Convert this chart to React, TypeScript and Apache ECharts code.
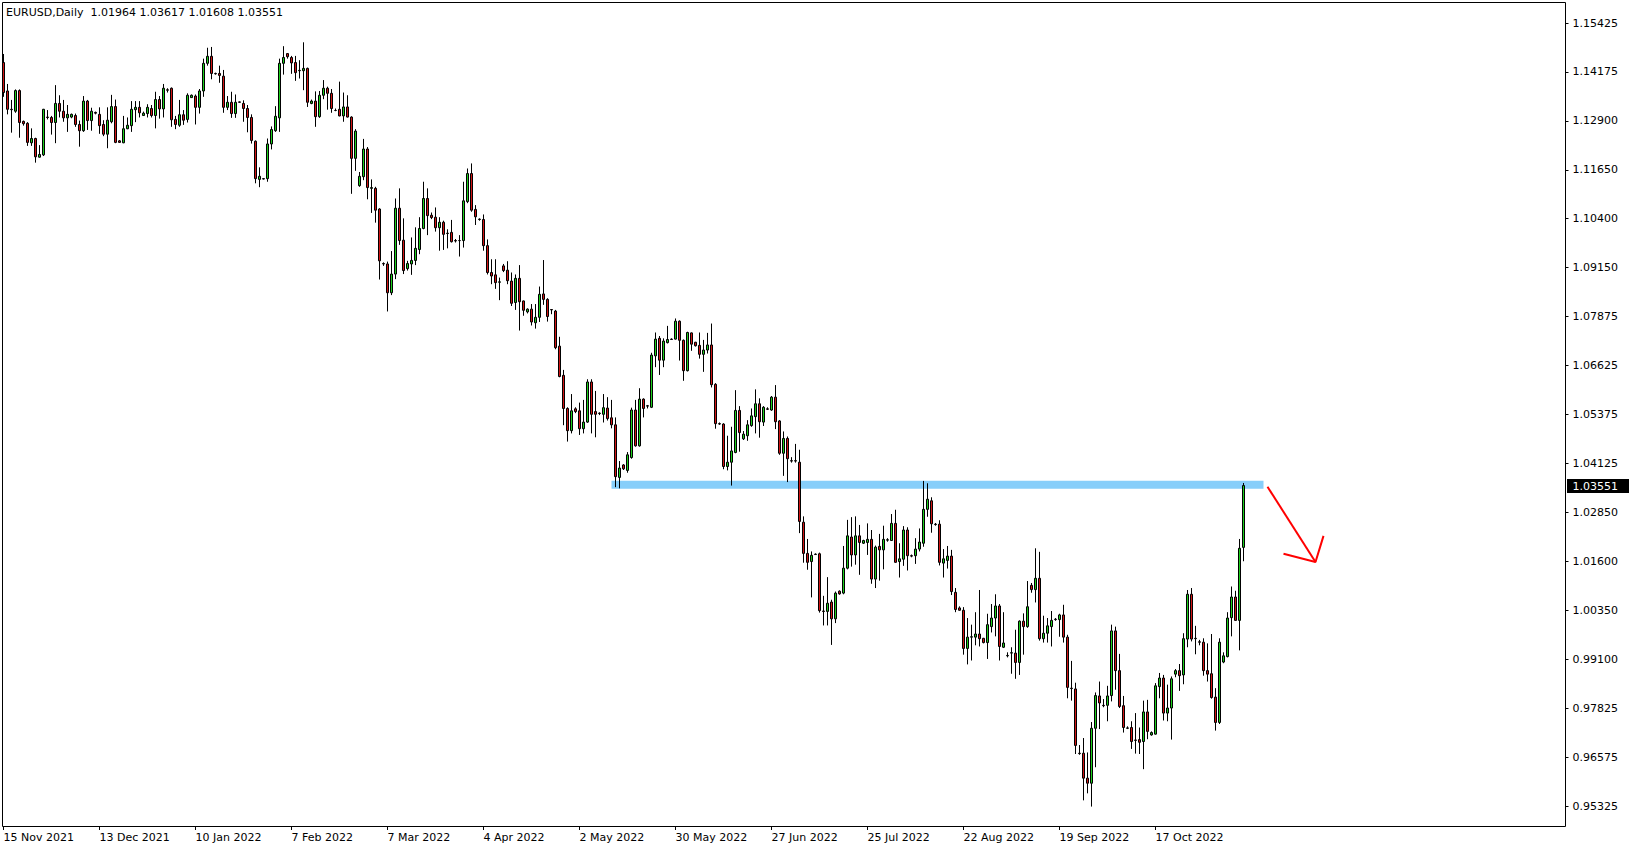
import React, { useEffect, useRef } from 'react';
import * as echarts from 'echarts';

const HEADER_TEXT = 'EURUSD,Daily  1.01964 1.03617 1.01608 1.03551';
const LAST_PRICE = 1.03551;
const LAST_PRICE_LABEL = '1.03551';

// horizontal resistance band (drawn object)
const LEVEL_PRICE = 1.0357;
const LEVEL_FROM_BAR = 152;
const LEVEL_TO_BAR = 315;

// red arrow (bar index, price)
const ARROW_SHAFT = [[316, 1.0352], [328, 1.0159]];
const ARROW_HEAD = [[330, 1.0226], [328, 1.0159], [320, 1.0180]];

const Y_MIN = 0.95325;
const Y_MAX = 1.15425;
const Y_TICK_LABELS = [
  '0.95325', '0.96575', '0.97825', '0.99100', '1.00350', '1.01600', '1.02850', '1.04125',
  '1.05375', '1.06625', '1.07875', '1.09150', '1.10400', '1.11650', '1.12900', '1.14175', '1.15425',
];

const X_TICK_EVERY = 24;
const X_TICK_LABELS = [
  '15 Nov 2021', '13 Dec 2021', '10 Jan 2022', '7 Feb 2022', '7 Mar 2022', '4 Apr 2022', '2 May 2022',
  '30 May 2022', '27 Jun 2022', '25 Jul 2022', '22 Aug 2022', '19 Sep 2022', '17 Oct 2022',
];
const TOTAL_SLOTS = 391;

// Daily bars [open, high, low, close] (Sun..Fri sessions)
const CANDLES_2021 = [
  [1.1441, 1.1463, 1.1353, 1.1364], [1.1368, 1.1386, 1.1308, 1.1321], [1.1321, 1.1345, 1.1261, 1.1320], [1.1316, 1.1372, 1.1312, 1.1369], [1.1369, 1.1372, 1.1248, 1.1287],
  [1.1290, 1.1292, 1.1279, 1.1284], [1.1285, 1.1288, 1.1227, 1.1236], [1.1235, 1.1272, 1.1227, 1.1246], [1.1246, 1.1248, 1.1184, 1.1199], [1.1198, 1.1229, 1.1197, 1.1205], [1.1204, 1.1322, 1.1201, 1.1321],
  [1.1301, 1.1319, 1.1295, 1.1300], [1.1300, 1.1304, 1.1256, 1.1287], [1.1287, 1.1383, 1.1234, 1.1336], [1.1336, 1.1357, 1.1300, 1.1316], [1.1316, 1.1345, 1.1289, 1.1299], [1.1299, 1.1332, 1.1263, 1.1308],
  [1.1301, 1.1310, 1.1298, 1.1308], [1.1305, 1.1310, 1.1276, 1.1282], [1.1282, 1.1292, 1.1225, 1.1266], [1.1266, 1.1355, 1.1263, 1.1342], [1.1342, 1.1345, 1.1268, 1.1292], [1.1292, 1.1325, 1.1266, 1.1316],
  [1.1313, 1.1315, 1.1308, 1.1311], [1.1308, 1.1326, 1.1258, 1.1279], [1.1282, 1.1293, 1.1252, 1.1257], [1.1257, 1.1326, 1.1221, 1.1293], [1.1289, 1.1358, 1.1285, 1.1328], [1.1328, 1.1346, 1.1234, 1.1236],
  [1.1240, 1.1242, 1.1235, 1.1236], [1.1235, 1.1304, 1.1234, 1.1271], [1.1271, 1.1300, 1.1270, 1.1280], [1.1279, 1.1342, 1.1263, 1.1321], [1.1320, 1.1342, 1.1288, 1.1326], [1.1326, 1.1342, 1.1300, 1.1312],
  [1.1305, 1.1315, 1.1304, 1.1311], [1.1310, 1.1334, 1.1300, 1.1326], [1.1323, 1.1332, 1.1300, 1.1305], [1.1305, 1.1366, 1.1272, 1.1346], [1.1346, 1.1355, 1.1297, 1.1322], [1.1322, 1.1386, 1.1300, 1.1375],
];

const CANDLES_2022_Q1 = [
  [1.1371, 1.1375, 1.1364, 1.1370], [1.1375, 1.1377, 1.1276, 1.1294], [1.1295, 1.1304, 1.1270, 1.1282], [1.1280, 1.1345, 1.1276, 1.1307], [1.1307, 1.1319, 1.1281, 1.1293], [1.1295, 1.1362, 1.1287, 1.1357],
  [1.1351, 1.1359, 1.1350, 1.1357], [1.1355, 1.1359, 1.1282, 1.1326], [1.1326, 1.1373, 1.1310, 1.1368], [1.1368, 1.1451, 1.1353, 1.1439], [1.1439, 1.1479, 1.1433, 1.1457], [1.1457, 1.1481, 1.1398, 1.1413],
  [1.1413, 1.1415, 1.1410, 1.1412], [1.1413, 1.1433, 1.1389, 1.1408], [1.1406, 1.1422, 1.1312, 1.1326], [1.1326, 1.1355, 1.1319, 1.1339], [1.1339, 1.1366, 1.1299, 1.1310], [1.1310, 1.1359, 1.1299, 1.1339],
  [1.1340, 1.1341, 1.1338, 1.1339], [1.1336, 1.1344, 1.1289, 1.1323], [1.1323, 1.1332, 1.1262, 1.1300], [1.1300, 1.1308, 1.1233, 1.1241], [1.1239, 1.1241, 1.1131, 1.1143], [1.1141, 1.1172, 1.1121, 1.1149],
  [1.1142, 1.1144, 1.1141, 1.1143], [1.1143, 1.1246, 1.1135, 1.1232], [1.1232, 1.1277, 1.1218, 1.1269], [1.1266, 1.1329, 1.1263, 1.1303], [1.1299, 1.1451, 1.1263, 1.1439], [1.1439, 1.1483, 1.1410, 1.1454],
  [1.1464, 1.1465, 1.1451, 1.1456], [1.1454, 1.1458, 1.1412, 1.1440], [1.1441, 1.1458, 1.1394, 1.1415], [1.1420, 1.1447, 1.1400, 1.1421], [1.1420, 1.1493, 1.1370, 1.1426], [1.1426, 1.1428, 1.1327, 1.1339],
  [1.1336, 1.1346, 1.1334, 1.1342], [1.1342, 1.1367, 1.1276, 1.1302], [1.1302, 1.1368, 1.1299, 1.1357], [1.1357, 1.1396, 1.1347, 1.1375], [1.1375, 1.1379, 1.1320, 1.1362], [1.1362, 1.1373, 1.1312, 1.1323],
  [1.1318, 1.1323, 1.1316, 1.1318], [1.1321, 1.1392, 1.1303, 1.1304], [1.1304, 1.1364, 1.1289, 1.1327], [1.1327, 1.1357, 1.1300, 1.1301], [1.1301, 1.1303, 1.1104, 1.1195], [1.1195, 1.1270, 1.1163, 1.1265],
  [1.1125, 1.1160, 1.1122, 1.1149], [1.1148, 1.1245, 1.1139, 1.1219], [1.1219, 1.1224, 1.1090, 1.1120], [1.1118, 1.1141, 1.1055, 1.1120], [1.1118, 1.1122, 1.1030, 1.1062], [1.1065, 1.1067, 1.0884, 1.0932],
  [1.0925, 1.0928, 1.0919, 1.0924], [1.0924, 1.0930, 1.0802, 1.0850], [1.0850, 1.0957, 1.0844, 1.0898], [1.0898, 1.1092, 1.0885, 1.1067], [1.1067, 1.1118, 1.0973, 1.0984], [1.0985, 1.1041, 1.0898, 1.0907],
  [1.0912, 1.0932, 1.0907, 1.0925], [1.0924, 1.0992, 1.0896, 1.0933], [1.0933, 1.1018, 1.0921, 1.0964], [1.0961, 1.1044, 1.0949, 1.1015], [1.1015, 1.1135, 1.1013, 1.1092], [1.1092, 1.1118, 1.0998, 1.1048],
  [1.1049, 1.1056, 1.1039, 1.1043], [1.1044, 1.1069, 1.1007, 1.1017], [1.1017, 1.1044, 1.0958, 1.1031], [1.1031, 1.1035, 1.0960, 1.1000], [1.1002, 1.1013, 1.0964, 1.1003], [1.1005, 1.1037, 1.0979, 1.0981],
  [1.0984, 1.0988, 1.0979, 1.0983], [1.0984, 1.0998, 1.0943, 1.0984], [1.0984, 1.1135, 1.0966, 1.1086], [1.1084, 1.1169, 1.1080, 1.1156], [1.1156, 1.1182, 1.1058, 1.1062], [1.1064, 1.1075, 1.1024, 1.1045],
];

const CANDLES_2022_Q2 = [
  [1.1039, 1.1041, 1.1035, 1.1038], [1.1038, 1.1051, 1.0958, 1.0971], [1.0971, 1.0987, 1.0897, 1.0902], [1.0902, 1.0936, 1.0872, 1.0893], [1.0896, 1.0936, 1.0860, 1.0876], [1.0877, 1.0889, 1.0831, 1.0878],
  [1.0919, 1.0924, 1.0903, 1.0907], [1.0908, 1.0931, 1.0872, 1.0881], [1.0880, 1.0902, 1.0816, 1.0823], [1.0825, 1.0897, 1.0806, 1.0887], [1.0887, 1.0921, 1.0753, 1.0827], [1.0829, 1.0830, 1.0791, 1.0805],
  [1.0801, 1.0810, 1.0797, 1.0808], [1.0808, 1.0821, 1.0766, 1.0775], [1.0773, 1.0821, 1.0758, 1.0787], [1.0787, 1.0866, 1.0775, 1.0846], [1.0847, 1.0934, 1.0819, 1.0833], [1.0833, 1.0836, 1.0776, 1.0789],
  [1.0807, 1.0808, 1.0795, 1.0806], [1.0803, 1.0806, 1.0705, 1.0709], [1.0713, 1.0737, 1.0633, 1.0635], [1.0638, 1.0652, 1.0510, 1.0553], [1.0553, 1.0556, 1.0468, 1.0496], [1.0496, 1.0590, 1.0489, 1.0547],
  [1.0552, 1.0556, 1.0541, 1.0545], [1.0547, 1.0568, 1.0485, 1.0501], [1.0501, 1.0575, 1.0489, 1.0518], [1.0518, 1.0628, 1.0516, 1.0621], [1.0621, 1.0628, 1.0489, 1.0538], [1.0545, 1.0598, 1.0479, 1.0538],
  [1.0540, 1.0543, 1.0536, 1.0541], [1.0538, 1.0590, 1.0517, 1.0555], [1.0554, 1.0582, 1.0522, 1.0527], [1.0529, 1.0575, 1.0502, 1.0511], [1.0511, 1.0530, 1.0351, 1.0378], [1.0376, 1.0418, 1.0348, 1.0400],
  [1.0408, 1.0410, 1.0395, 1.0398], [1.0394, 1.0441, 1.0388, 1.0434], [1.0427, 1.0555, 1.0424, 1.0549], [1.0549, 1.0575, 1.0455, 1.0457], [1.0457, 1.0605, 1.0455, 1.0577], [1.0577, 1.0579, 1.0530, 1.0553],
  [1.0560, 1.0562, 1.0553, 1.0559], [1.0556, 1.0696, 1.0554, 1.0690], [1.0688, 1.0748, 1.0659, 1.0731], [1.0733, 1.0739, 1.0639, 1.0677], [1.0677, 1.0733, 1.0659, 1.0726], [1.0722, 1.0765, 1.0720, 1.0730],
  [1.0731, 1.0733, 1.0729, 1.0730], [1.0731, 1.0784, 1.0730, 1.0777], [1.0777, 1.0779, 1.0676, 1.0728], [1.0728, 1.0730, 1.0624, 1.0650], [1.0650, 1.0750, 1.0648, 1.0748], [1.0747, 1.0748, 1.0701, 1.0718],
  [1.0723, 1.0724, 1.0712, 1.0714], [1.0715, 1.0748, 1.0681, 1.0692], [1.0692, 1.0729, 1.0647, 1.0703], [1.0703, 1.0747, 1.0694, 1.0716], [1.0716, 1.0771, 1.0607, 1.0614], [1.0615, 1.0618, 1.0501, 1.0514],
  [1.0514, 1.0517, 1.0511, 1.0513], [1.0513, 1.0515, 1.0397, 1.0404], [1.0404, 1.0483, 1.0394, 1.0415], [1.0415, 1.0506, 1.0355, 1.0444], [1.0440, 1.0600, 1.0438, 1.0548], [1.0548, 1.0559, 1.0442, 1.0491],
  [1.0475, 1.0495, 1.0472, 1.0487], [1.0483, 1.0523, 1.0470, 1.0511], [1.0509, 1.0553, 1.0506, 1.0534], [1.0532, 1.0602, 1.0489, 1.0565], [1.0565, 1.0579, 1.0478, 1.0519], [1.0518, 1.0559, 1.0508, 1.0556],
  [1.0552, 1.0556, 1.0549, 1.0551], [1.0549, 1.0585, 1.0547, 1.0582], [1.0582, 1.0613, 1.0500, 1.0519], [1.0521, 1.0523, 1.0434, 1.0438], [1.0438, 1.0494, 1.0380, 1.0476], [1.0476, 1.0481, 1.0364, 1.0424],
];

const CANDLES_2022_Q3 = [
  [1.0419, 1.0428, 1.0414, 1.0418], [1.0418, 1.0462, 1.0414, 1.0419], [1.0415, 1.0447, 1.0233, 1.0263], [1.0261, 1.0276, 1.0157, 1.0181], [1.0181, 1.0218, 1.0139, 1.0158], [1.0160, 1.0186, 1.0068, 1.0176],
  [1.0178, 1.0181, 1.0177, 1.0179], [1.0180, 1.0183, 1.0029, 1.0034], [1.0033, 1.0072, 0.9996, 1.0032], [1.0032, 1.0120, 0.9996, 1.0053], [1.0056, 1.0062, 0.9946, 1.0013], [1.0013, 1.0083, 1.0002, 1.0079],
  [1.0084, 1.0086, 1.0075, 1.0077], [1.0079, 1.0200, 1.0076, 1.0143], [1.0143, 1.0267, 1.0140, 1.0226], [1.0223, 1.0274, 1.0147, 1.0177], [1.0177, 1.0276, 1.0152, 1.0226], [1.0226, 1.0254, 1.0126, 1.0209],
  [1.0207, 1.0216, 1.0205, 1.0214], [1.0209, 1.0258, 1.0177, 1.0217], [1.0217, 1.0241, 1.0103, 1.0115], [1.0115, 1.0201, 1.0092, 1.0197], [1.0199, 1.0231, 1.0111, 1.0190], [1.0190, 1.0252, 1.0140, 1.0217],
  [1.0215, 1.0220, 1.0211, 1.0216], [1.0214, 1.0282, 1.0213, 1.0258], [1.0258, 1.0293, 1.0157, 1.0158], [1.0160, 1.0207, 1.0119, 1.0167], [1.0166, 1.0251, 1.0149, 1.0241], [1.0241, 1.0248, 1.0137, 1.0175],
  [1.0175, 1.0178, 1.0171, 1.0174], [1.0175, 1.0220, 1.0154, 1.0192], [1.0192, 1.0245, 1.0186, 1.0210], [1.0207, 1.0367, 1.0198, 1.0294], [1.0294, 1.0361, 1.0275, 1.0320], [1.0316, 1.0325, 1.0234, 1.0257],
  [1.0256, 1.0259, 1.0252, 1.0255], [1.0256, 1.0266, 1.0150, 1.0158], [1.0156, 1.0192, 1.0119, 1.0167], [1.0163, 1.0200, 1.0142, 1.0174], [1.0174, 1.0190, 1.0074, 1.0083], [1.0081, 1.0092, 1.0030, 1.0037],
  [1.0041, 1.0045, 1.0034, 1.0035], [1.0035, 1.0043, 0.9921, 0.9937], [0.9937, 1.0015, 0.9896, 0.9966], [0.9966, 0.9998, 0.9906, 0.9967], [0.9966, 1.0030, 0.9945, 0.9974], [0.9974, 1.0087, 0.9942, 0.9962],
  [0.9963, 0.9964, 0.9950, 0.9952], [0.9952, 1.0026, 0.9910, 0.9998], [0.9993, 1.0051, 0.9978, 1.0015], [1.0015, 1.0076, 0.9968, 1.0046], [1.0046, 1.0051, 0.9906, 0.9942], [0.9940, 1.0030, 0.9938, 0.9951],
  [0.9918, 0.9927, 0.9914, 0.9919], [0.9925, 0.9940, 0.9872, 0.9926], [0.9925, 0.9985, 0.9859, 0.9901], [0.9901, 1.0009, 0.9869, 1.0007], [1.0007, 1.0027, 0.9921, 0.9993], [0.9993, 1.0110, 0.9990, 1.0044],
  [1.0099, 1.0105, 1.0080, 1.0088], [1.0088, 1.0194, 1.0055, 1.0117], [1.0117, 1.0185, 0.9957, 0.9962], [0.9962, 1.0021, 0.9952, 0.9976], [0.9976, 1.0015, 0.9952, 0.9995], [0.9993, 1.0033, 0.9942, 1.0009],
  [1.0011, 1.0015, 1.0008, 1.0012], [1.0011, 1.0026, 0.9967, 1.0023], [1.0023, 1.0049, 0.9952, 0.9966], [0.9966, 0.9972, 0.9809, 0.9837], [0.9835, 0.9905, 0.9803, 0.9834], [0.9833, 0.9849, 0.9666, 0.9688],
  [0.9668, 0.9689, 0.9664, 0.9667], [0.9668, 0.9707, 0.9547, 0.9604], [0.9604, 0.9670, 0.9565, 0.9591], [0.9591, 0.9748, 0.9531, 0.9732], [0.9732, 0.9824, 0.9632, 0.9816], [0.9815, 0.9852, 0.9730, 0.9797],
];

const CANDLES_2022_Q4 = [
  [0.9791, 0.9807, 0.9786, 0.9790], [0.9791, 0.9841, 0.9750, 0.9815], [0.9816, 0.9998, 0.9801, 0.9982], [0.9982, 0.9993, 0.9831, 0.9880], [0.9880, 0.9923, 0.9784, 0.9788], [0.9790, 0.9815, 0.9721, 0.9734],
  [0.9732, 0.9737, 0.9730, 0.9733], [0.9734, 0.9750, 0.9679, 0.9698], [0.9701, 0.9771, 0.9667, 0.9702], [0.9703, 0.9734, 0.9666, 0.9696], [0.9698, 0.9803, 0.9627, 0.9774], [0.9774, 0.9805, 0.9704, 0.9724],
  [0.9715, 0.9724, 0.9713, 0.9721], [0.9717, 0.9848, 0.9716, 0.9841], [0.9839, 0.9874, 0.9809, 0.9861], [0.9861, 0.9869, 0.9752, 0.9771], [0.9771, 0.9844, 0.9750, 0.9784], [0.9784, 0.9865, 0.9703, 0.9859],
  [0.9871, 0.9884, 0.9863, 0.9880], [0.9880, 0.9897, 0.9828, 0.9867], [0.9869, 0.9976, 0.9845, 0.9962], [0.9961, 1.0087, 0.9940, 1.0076], [1.0076, 1.0092, 0.9955, 0.9961], [0.9962, 0.9995, 0.9922, 0.9963],
  [0.9954, 0.9959, 0.9945, 0.9953], [0.9953, 0.9963, 0.9867, 0.9880], [0.9880, 0.9950, 0.9852, 0.9871], [0.9872, 0.9974, 0.9808, 0.9811], [0.9812, 0.9835, 0.9726, 0.9747], [0.9747, 0.9963, 0.9743, 0.9953],
  [0.9902, 0.9927, 0.9899, 0.9918], [0.9916, 1.0030, 0.9914, 1.0015], [1.0016, 1.0096, 0.9968, 1.0069], [1.0069, 1.0085, 1.0008, 1.0009], [1.0009, 1.0218, 0.9932, 1.0194], [1.01964, 1.03617, 1.01608, 1.03551],
];

const BULL_COLOR = '#1CCF1C';
const BEAR_COLOR = '#D01414';
const LEVEL_COLOR = '#87CEFA';
const ARROW_COLOR = '#FF0000';
const FONT = '"DejaVu Sans", Tahoma, Verdana, sans-serif';

export default function App() {
  const ref = useRef<HTMLDivElement>(null);

  useEffect(() => {
    if (!ref.current) return;
    const chart = echarts.init(ref.current, undefined, { renderer: 'svg' });

    const candles = [...CANDLES_2021, ...CANDLES_2022_Q1, ...CANDLES_2022_Q2, ...CANDLES_2022_Q3, ...CANDLES_2022_Q4];
    const barCount = candles.length;
    const categories = Array.from({ length: TOTAL_SLOTS }, (_, i) => String(i));
    const ohlc = candles.map(([o, h, l, c]) => [o, c, l, h]);
    const yStep = (Y_MAX - Y_MIN) / (Y_TICK_LABELS.length - 1);
    const showTick = (index: number) => index % X_TICK_EVERY === 0 && index < barCount;

    const option: any = {
      animation: false,
      backgroundColor: '#ffffff',
      title: {
        text: HEADER_TEXT,
        left: 6,
        top: 7,
        padding: 0,
        textStyle: { fontFamily: FONT, fontSize: 11, fontWeight: 'normal', color: '#000' },
      },
      grid: { left: 1.5, right: 63.5, top: 23, bottom: 44, containLabel: false },
      xAxis: {
        type: 'category',
        data: categories,
        boundaryGap: true,
        offset: 20,
        axisLine: { show: false },
        axisTick: {
          show: true,
          alignWithLabel: true,
          length: 4,
          interval: (index: number) => showTick(index),
          lineStyle: { color: '#000', width: 1 },
        },
        axisLabel: {
          interval: (index: number) => showTick(index),
          formatter: (_v: string, index: number) =>
            showTick(index) ? X_TICK_LABELS[index / X_TICK_EVERY] ?? '' : '',
          align: 'left',
          margin: 6,
          fontFamily: FONT,
          fontSize: 11,
          color: '#000',
        },
        splitLine: { show: false },
      },
      yAxis: {
        type: 'value',
        position: 'right',
        min: Y_MIN,
        max: Y_MAX,
        interval: yStep,
        axisLine: { show: false },
        axisTick: { show: true, inside: false, length: 3, lineStyle: { color: '#000', width: 1 } },
        axisLabel: {
          margin: 7,
          formatter: (v: number) => Y_TICK_LABELS[Math.round((v - Y_MIN) / yStep)] ?? '',
          fontFamily: FONT,
          fontSize: 11,
          color: '#000',
        },
        splitLine: { show: false },
      },
      series: [
        {
          name: 'level',
          type: 'line',
          data: [[LEVEL_FROM_BAR, LEVEL_PRICE], [LEVEL_TO_BAR, LEVEL_PRICE]],
          symbol: 'none',
          silent: true,
          clip: false,
          z: 1,
          lineStyle: { color: LEVEL_COLOR, width: 8, cap: 'butt' },
        },
        {
          name: 'EURUSD',
          type: 'candlestick',
          data: ohlc,
          barWidth: 2,
          clip: false,
          z: 3,
          itemStyle: {
            color: BULL_COLOR,
            color0: BEAR_COLOR,
            borderColor: '#000',
            borderColor0: '#000',
            borderColorDoji: '#000',
            borderWidth: 1,
          },
        },
        {
          name: 'arrow-shaft',
          type: 'line',
          data: ARROW_SHAFT,
          symbol: 'none',
          silent: true,
          clip: false,
          z: 4,
          lineStyle: { color: ARROW_COLOR, width: 2 },
        },
        {
          name: 'arrow-head',
          type: 'line',
          data: ARROW_HEAD,
          symbol: 'none',
          silent: true,
          clip: false,
          z: 4,
          lineStyle: { color: ARROW_COLOR, width: 2 },
        },
      ],
    };

    chart.setOption(option);

    // price tag on the axis, positioned through the y scale
    const py = chart.convertToPixel({ yAxisIndex: 0 }, LAST_PRICE) as number;
    const axisX = chart.convertToPixel({ xAxisIndex: 0 }, TOTAL_SLOTS - 1) as number + 2;
    chart.setOption({
      graphic: [
        {
          type: 'rect',
          silent: true,
          z: 50,
          shape: { x: 2.5, y: 2.5, width: 1563, height: 824 },
          style: { fill: 'none', stroke: '#000', lineWidth: 1 },
        },
        {
          type: 'rect',
          silent: true,
          z: 60,
          shape: { x: axisX + 1.5, y: Math.round(py) - 7, width: 70, height: 14 },
          style: { fill: '#000' },
        },
        {
          type: 'text',
          silent: true,
          z: 61,
          x: axisX + 7,
          y: Math.round(py) + 0.5,
          style: {
            text: LAST_PRICE_LABEL,
            fill: '#fff',
            fontFamily: FONT,
            fontSize: 11,
            verticalAlign: 'middle',
            align: 'left',
          },
        },
      ],
    });

    return () => chart.dispose();
  }, []);

  return (
    <div
      ref={ref}
      style={{ position: 'fixed', left: 0, top: 0, width: 1629, height: 850, background: '#fff' }}
    />
  );
}
